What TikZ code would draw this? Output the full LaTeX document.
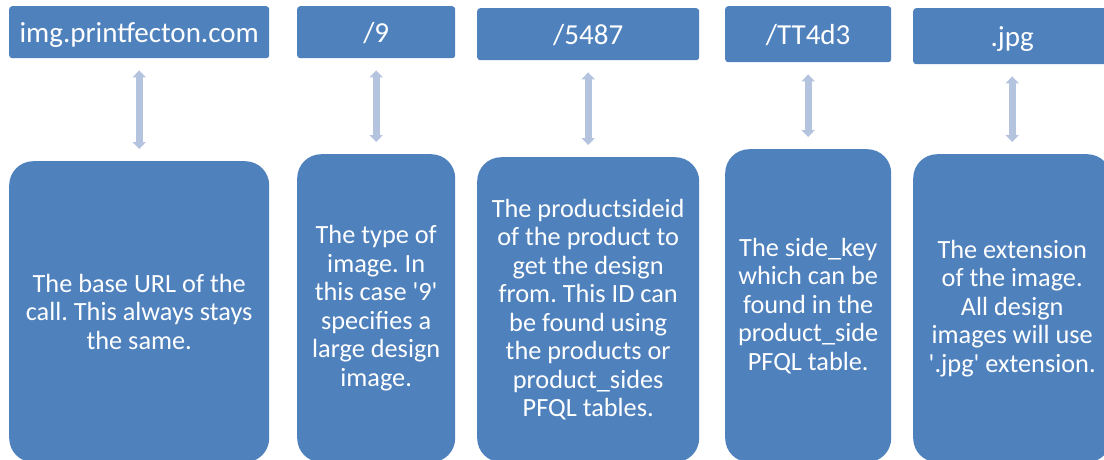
\documentclass[tikz,border=0pt]{standalone}
\usepackage{fontspec}
\setmainfont{Carlito}
\usetikzlibrary{arrows.meta}
\definecolor{boxblue}{HTML}{4F81BD}
\definecolor{arrowblue}{HTML}{B4C4DF}
\newcommand{\sq}{\textquotesingle}
\frenchspacing
\begin{document}
\begin{tikzpicture}[x=1pt,y=-1pt,
  topbox/.style={fill=boxblue, rounded corners=3pt, anchor=north west, inner sep=0pt},
  toptext/.style={text=white, font=\fontsize{29}{34}\selectfont, inner sep=0pt, anchor=base},
  botbox/.style={fill=boxblue, rounded corners=24pt, text=white,
    font=\fontsize{26.3}{28.5}\selectfont, align=center, inner sep=0pt, anchor=north west},
  link/.style={draw=arrowblue, line width=7pt,
    {Triangle[width=13pt,length=7pt]}-{Triangle[width=13pt,length=7pt]},
    shorten >=12pt, shorten <=12pt}]
\clip (0,0) rectangle (1104,459);
\fill[white] (0,0) rectangle (1104,459);
% top boxes
\node[topbox, minimum width=260pt, minimum height=52pt] (t1) at (9,6) {};
\node[topbox, minimum width=158pt, minimum height=52pt] (t2) at (297,6) {};
\node[topbox, minimum width=222pt, minimum height=52pt] (t3) at (477,8) {};
\node[topbox, minimum width=166pt, minimum height=56pt] (t4) at (725,6) {};
\node[topbox, minimum width=198pt, minimum height=56pt] (t5) at (913,8) {};
\node[toptext] (l1) at ([yshift=-10pt]t1.center) {img.printfecton.com};
\node[toptext] (l2) at ([yshift=-10pt]t2.center) {/9};
\node[toptext] (l3) at ([yshift=-10pt]t3.center) {/5487};
\node[toptext] (l4) at ([yshift=-10pt]t4.center) {/TT4d3};
\node[toptext] (l5) at ([yshift=-10pt]t5.center) {.jpg};
% bottom boxes
\node[botbox, minimum width=260pt, minimum height=301pt] (b1) at (9,161)
  {The base URL of the\\call. This always stays\\the same.};
\node[botbox, minimum width=158pt, minimum height=308pt] (b2) at (297,154)
  {The type of\\image. In\\this case \sq9\sq\\specifies a\\large design\\image.};
\node[botbox, minimum width=222pt, minimum height=305pt] (b3) at (477,157)
  {The productsideid\\of the product to\\get the design\\from. This ID can\\be found using\\the products or\\product\_sides\\PFQL tables.};
\node[botbox, minimum width=166pt, minimum height=313pt] (b4) at (725,149)
  {The side\_key\\which can be\\found in the\\product\_side\\PFQL table.};
\node[botbox, minimum width=198pt, minimum height=308pt] (b5) at (913,154)
  {The extension\\of the image.\\All design\\images will use\\\sq.jpg\sq{} extension.};
% connectors
\draw[link] (t1.south) -- (b1.north);
\draw[link] (t2.south) -- (b2.north);
\draw[link] (t3.south) -- (b3.north);
\draw[link] (t4.south) -- (b4.north);
\draw[link] (t5.south) -- (b5.north);
\end{tikzpicture}
\end{document}
